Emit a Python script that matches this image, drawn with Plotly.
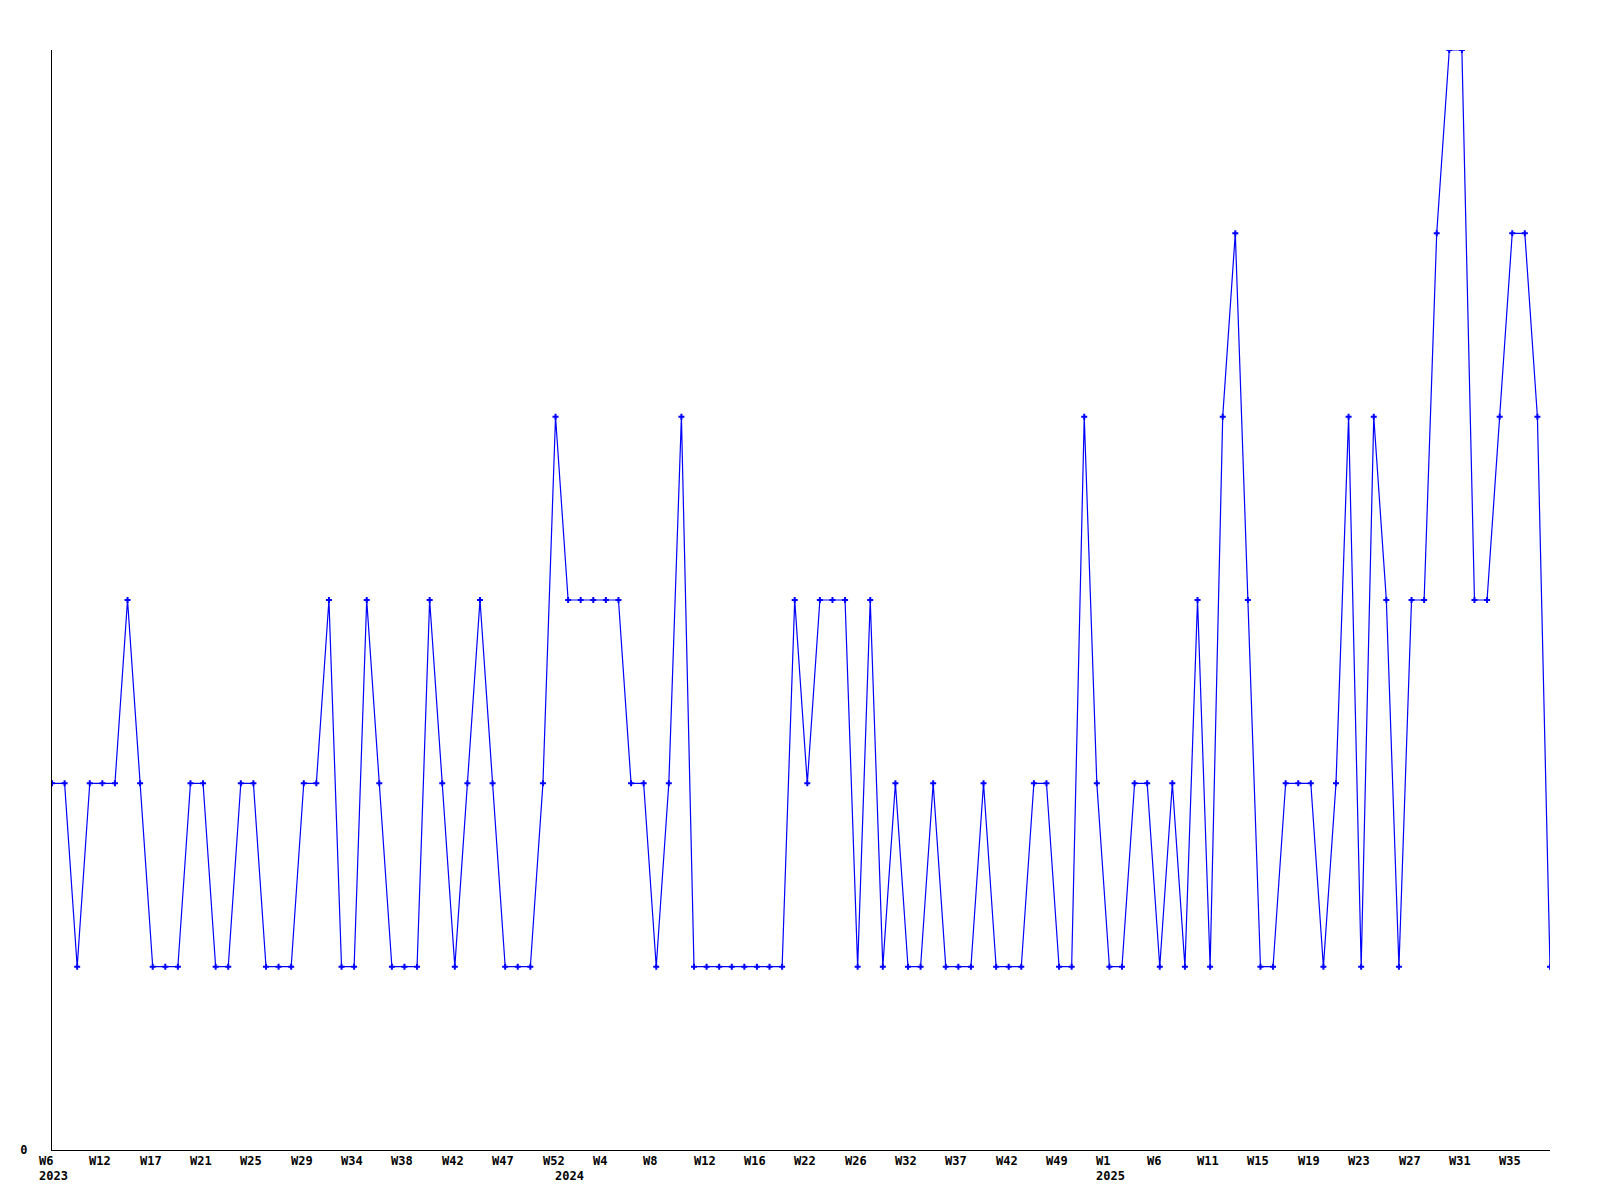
import plotly.graph_objects as go

# Tygodnie (rok-tydzień ISO), w kolejności wykresu
weeks = [
    "2023-W06", "2023-W07", "2023-W08", "2023-W10", "2023-W12", "2023-W13", "2023-W14", "2023-W16",
    "2023-W17", "2023-W18", "2023-W19", "2023-W20", "2023-W21", "2023-W22", "2023-W23", "2023-W24",
    "2023-W25", "2023-W26", "2023-W27", "2023-W28", "2023-W29", "2023-W30", "2023-W31", "2023-W33",
    "2023-W34", "2023-W35", "2023-W36", "2023-W37", "2023-W38", "2023-W39", "2023-W40", "2023-W41",
    "2023-W42", "2023-W43", "2023-W44", "2023-W46", "2023-W47", "2023-W48", "2023-W49", "2023-W51",
    "2023-W52", "2024-W01", "2024-W02", "2024-W03", "2024-W04", "2024-W05", "2024-W06", "2024-W07",
    "2024-W08", "2024-W09", "2024-W10", "2024-W11", "2024-W12", "2024-W13", "2024-W14", "2024-W15",
    "2024-W16", "2024-W17", "2024-W19", "2024-W20", "2024-W22", "2024-W23", "2024-W24", "2024-W25",
    "2024-W26", "2024-W27", "2024-W29", "2024-W30", "2024-W32", "2024-W33", "2024-W34", "2024-W36",
    "2024-W37", "2024-W38", "2024-W39", "2024-W41", "2024-W42", "2024-W43", "2024-W45", "2024-W47",
    "2024-W49", "2024-W50", "2024-W51", "2024-W52", "2025-W01", "2025-W02", "2025-W03", "2025-W05",
    "2025-W06", "2025-W07", "2025-W08", "2025-W10", "2025-W11", "2025-W12", "2025-W13", "2025-W14",
    "2025-W15", "2025-W16", "2025-W17", "2025-W18", "2025-W19", "2025-W20", "2025-W21", "2025-W22",
    "2025-W23", "2025-W24", "2025-W25", "2025-W26", "2025-W27", "2025-W28", "2025-W29", "2025-W30",
    "2025-W31", "2025-W32", "2025-W33", "2025-W34", "2025-W35", "2025-W36", "2025-W37", "2025-W38",
]

counts = [
    2, 2, 1, 2, 2, 2, 3, 2, 1, 1, 1, 2, 2, 1, 1, 2,
    2, 1, 1, 1, 2, 2, 3, 1, 1, 3, 2, 1, 1, 1, 3, 2,
    1, 2, 3, 2, 1, 1, 1, 2, 4, 3, 3, 3, 3, 3, 2, 2,
    1, 2, 4, 1, 1, 1, 1, 1, 1, 1, 1, 3, 2, 3, 3, 3,
    1, 3, 1, 2, 1, 1, 2, 1, 1, 1, 2, 1, 1, 1, 2, 2,
    1, 1, 4, 2, 1, 1, 2, 2, 1, 2, 1, 3, 1, 4, 5, 3,
    1, 1, 2, 2, 2, 1, 2, 4, 1, 4, 3, 1, 3, 3, 5, 6,
    6, 3, 3, 4, 5, 5, 4, 1,
]

# Co czwarty tydzień dostaje etykietę
label_step = 4
tick_weeks = weeks[::label_step]
tick_labels = ["W" + str(int(w.split("-W")[1])) for w in tick_weeks]

# Etykieta roku pod pierwszym tygodniem danego roku
year_weeks = []
year_labels = []
for w in weeks:
    rok = w.split("-")[0]
    if rok not in year_labels:
        year_labels.append(rok)
        year_weeks.append(w)

FONT = dict(family="DejaVu Sans Mono", size=12, color="black", weight="bold")

fig = go.Figure()

fig.add_trace(go.Scatter(
    x=weeks,
    y=counts,
    mode="lines+markers",
    line=dict(color="#0000ff", width=1.2),
    marker=dict(symbol="cross", size=5, color="#0000ff", line=dict(width=0)),
    showlegend=False,
    hoverinfo="x+y",
))

annotations = []
for w, txt in zip(tick_weeks, tick_labels):
    annotations.append(dict(
        x=w, xref="x", y=0, yref="paper",
        text=txt, showarrow=False, font=FONT,
        xanchor="left", yanchor="top", xshift=-15, yshift=-2,
    ))
for w, txt in zip(year_weeks, year_labels):
    annotations.append(dict(
        x=w, xref="x", y=0, yref="paper",
        text=txt, showarrow=False, font=FONT,
        xanchor="left", yanchor="top", xshift=-15, yshift=-17,
    ))

# strona ma 8px marginesu body, stąd przesunięte marginesy
fig.update_layout(
    width=1600,
    height=1200,
    margin=dict(l=42, r=58, t=42, b=58),
    plot_bgcolor="white",
    paper_bgcolor="white",
    font=FONT,
    annotations=annotations,
    xaxis=dict(
        type="category",
        range=[0, len(weeks) - 1],
        showticklabels=False,
        showgrid=False,
        zeroline=False,
        showline=True,
        linecolor="black",
        linewidth=1,
        ticks="",
    ),
    yaxis=dict(
        range=[0, 6],
        tickvals=[0],
        ticktext=["0"],
        showgrid=False,
        zeroline=False,
        showline=True,
        linecolor="black",
        linewidth=1,
        ticks="",
        ticklabelstandoff=21,
        tickfont=FONT,
    ),
)

fig.write_html("out.html")
